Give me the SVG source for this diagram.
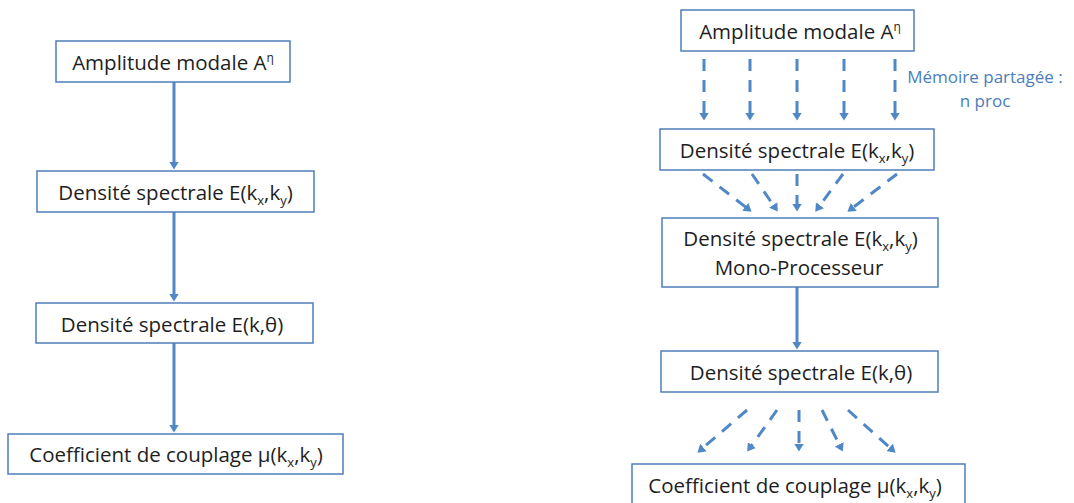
<svg xmlns="http://www.w3.org/2000/svg" width="1074" height="503" viewBox="0 0 1074 503">
  <style>
    .box { fill: #ffffff; stroke: #4F7FB8; stroke-width: 1.5; }
    .t { font-family: "Open Sans", "Liberation Sans", sans-serif; font-size: 20.5px; fill: #1e1e1e; text-anchor: middle; }
    .note { font-family: "Open Sans", "Liberation Sans", sans-serif; font-size: 17px; fill: #4A7EBB; text-anchor: middle; }
    .sub { font-size: 13px; }
    .sup { font-size: 12px; }
    .solid { stroke: #5088C7; stroke-width: 3; fill: none; marker-end: url(#ah); }
    .dash { stroke: #5088C7; stroke-width: 3; fill: none; stroke-dasharray: 12 9; marker-end: url(#ah); }
  </style>
  <defs>
    <marker id="ah" viewBox="0 0 8 10" markerWidth="8" markerHeight="10" refX="0.5" refY="5" orient="auto" markerUnits="userSpaceOnUse">
      <path d="M0,0 L8,5 L0,10 z" fill="#5088C7"/>
    </marker>
  </defs>

  <g id="connectors">
    <line class="solid" x1="174" y1="82" x2="174" y2="162"/>
    <line class="solid" x1="174" y1="212" x2="174" y2="294"/>
    <line class="solid" x1="174" y1="343" x2="174" y2="425"/>
    <line class="solid" x1="797" y1="287" x2="797" y2="342"/>

    <line class="dash" x1="704" y1="59" x2="704" y2="113"/>
    <line class="dash" x1="750" y1="59" x2="750" y2="113"/>
    <line class="dash" x1="797" y1="59" x2="797" y2="113"/>
    <line class="dash" x1="844" y1="59" x2="844" y2="113"/>
    <line class="dash" x1="895" y1="59" x2="895" y2="113"/>

    <line class="dash" x1="703" y1="174" x2="745.7" y2="207.1"/>
    <line class="dash" x1="752" y1="174" x2="773.5" y2="205.4"/>
    <line class="dash" x1="797" y1="174" x2="797" y2="204"/>
    <line class="dash" x1="843" y1="174" x2="819.7" y2="205.6"/>
    <line class="dash" x1="897" y1="174" x2="853.4" y2="207.2"/>

    <line class="dash" x1="747" y1="410" x2="703.1" y2="447.8"/>
    <line class="dash" x1="777" y1="410" x2="751.6" y2="445.5"/>
    <line class="dash" x1="799" y1="410" x2="799" y2="444"/>
    <line class="dash" x1="822" y1="410" x2="839.4" y2="444.8"/>
    <line class="dash" x1="848" y1="410" x2="890" y2="447.7"/>
  </g>

  <g id="L1">
    <rect class="box" x="56" y="41" width="234" height="41"/>
    <text class="t" x="173" y="70">Amplitude modale A<tspan class="sup" dy="-8">η</tspan></text>
  </g>
  <g id="L2">
    <rect class="box" x="37" y="171" width="277" height="41"/>
    <text class="t" x="175.5" y="200">Densité spectrale E(k<tspan class="sub" dy="5">x</tspan><tspan dy="-5">,k</tspan><tspan class="sub" dy="5">y</tspan><tspan dy="-5">)</tspan></text>
  </g>
  <g id="L3">
    <rect class="box" x="36" y="303" width="277" height="40"/>
    <text class="t" x="172" y="332">Densité spectrale E(k,θ)</text>
  </g>
  <g id="L4">
    <rect class="box" x="8" y="434" width="335" height="40"/>
    <text class="t" x="176" y="462">Coefficient de couplage μ(k<tspan class="sub" dy="5">x</tspan><tspan dy="-5">,k</tspan><tspan class="sub" dy="5">y</tspan><tspan dy="-5">)</tspan></text>
  </g>

  <g id="R1">
    <rect class="box" x="681" y="10" width="233" height="41"/>
    <text class="t" x="800" y="39">Amplitude modale A<tspan class="sup" dy="-8">η</tspan></text>
  </g>
  <g id="note">
    <text class="note" x="985" y="83">Mémoire partagée :</text>
    <text class="note" x="985" y="107">n proc</text>
  </g>
  <g id="R2">
    <rect class="box" x="660" y="129" width="274" height="41"/>
    <text class="t" x="797" y="158">Densité spectrale E(k<tspan class="sub" dy="5">x</tspan><tspan dy="-5">,k</tspan><tspan class="sub" dy="5">y</tspan><tspan dy="-5">)</tspan></text>
  </g>
  <g id="R3">
    <rect class="box" x="662" y="218" width="276" height="69"/>
    <text class="t" x="800.5" y="246">Densité spectrale E(k<tspan class="sub" dy="5">x</tspan><tspan dy="-5">,k</tspan><tspan class="sub" dy="5">y</tspan><tspan dy="-5">)</tspan></text>
    <text class="t" x="799" y="275">Mono-Processeur</text>
  </g>
  <g id="R4">
    <rect class="box" x="661" y="351" width="277" height="41"/>
    <text class="t" x="801" y="380">Densité spectrale E(k,θ)</text>
  </g>
  <g id="R5">
    <rect class="box" x="632" y="464" width="333" height="45"/>
    <text class="t" x="795" y="493">Coefficient de couplage μ(k<tspan class="sub" dy="5">x</tspan><tspan dy="-5">,k</tspan><tspan class="sub" dy="5">y</tspan><tspan dy="-5">)</tspan></text>
  </g>
</svg>
